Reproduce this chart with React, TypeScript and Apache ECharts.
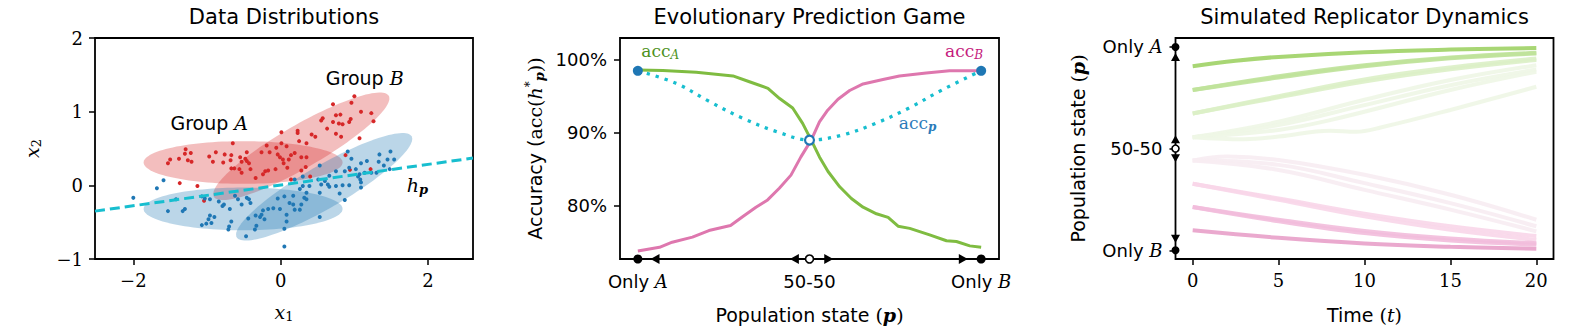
import React, { useEffect, useRef } from "react";
import * as echarts from "echarts";

const SANS = "DejaVu Sans";
const SERIF = "DejaVu Serif";
const RED = "#d62728";
const BLUE = "#1f77b4";
const CYAN = "#17becf";
const GREEN = "#7fbc41";
const PINK = "#de77ae";

// ---------- Panel 1: Data Distributions ----------
const x1Ticks = [-2, 0, 2];
const x2Ticks = [-1, 0, 1, 2];
// [cx, cy, semi-major, semi-minor, angle (deg)]
const ellipsesRed = [
  [-0.51, 0.31, 1.35, 0.29, 0],
  [0.28, 0.53, 1.37, 0.29, 30],
];
const ellipsesBlue = [
  [-0.51, -0.32, 1.35, 0.29, 0],
  [0.59, -0.02, 1.37, 0.29, 30],
];
const redPoints = [
  [-0.65, 0.57], [-1.29, 0.49], [-1.22, 0.44], [-1.3, 0.43], [-1.38, 0.36], [-1.5, 0.35], [-1.26, 0.34],
  [-1.21, 0.32], [-1.53, 0.3], [-0.97, 0.39], [-0.88, 0.45], [-0.92, 0.32], [-0.76, 0.42], [-0.78, 0.31],
  [-0.68, 0.34], [-0.67, 0.41], [-0.55, 0.38], [-0.53, 0.32], [-0.48, 0.36], [-0.46, 0.33], [-0.43, 0.3],
  [-0.46, 0.45], [-0.63, 0.23], [-0.67, 0.23], [-0.56, 0.22], [-0.53, 0.17], [-0.41, 0.22], [-0.34, 0.1],
  [-0.24, 0.15], [-0.21, 0.19], [-0.17, 0.2], [-0.26, 0.45], [-0.19, 0.54], [-0.15, 0.45], [-0.06, 0.51],
  [-0.04, 0.42], [-0.01, 0.38], [0.03, 0.35], [-0.07, 0.22], [0.01, 0.72], [0.09, 0.24], [-1.37, 0.03],
  [-1.13, -0.01], [-1.04, -0.21],
  [1.0, 1.21], [0.96, 1.12], [0.71, 1.1], [1.09, 1.0], [1.23, 0.98], [1.26, 0.87], [0.81, 0.96], [0.75, 0.95],
  [0.57, 0.91], [0.55, 0.88], [0.71, 0.86], [0.79, 0.84], [0.84, 0.83], [0.95, 0.9], [0.93, 0.86], [0.63, 0.77],
  [0.75, 0.7], [0.82, 0.66], [1.07, 0.64], [0.42, 0.69], [0.47, 0.66], [0.23, 0.74], [0.23, 0.71], [0.25, 0.6],
  [0.35, 0.57], [0.01, 0.57], [0.08, 0.53], [0.19, 0.44], [0.14, 0.41], [0.11, 0.35], [0.28, 0.38], [0.35, 0.38],
  [0.04, 0.3], [0.34, 0.25], [0.28, 0.2], [0.4, 0.12], [0.14, 0.08], [1.22, 0.22], [0.88, 0.41], [0.94, 0.21],
];
const bluePoints = [
  [-1.59, 0.07], [-1.68, -0.04], [-2.0, -0.17], [-1.42, -0.19], [-1.3, -0.32], [-1.33, -0.35], [-1.53, -0.35],
  [-1.07, -0.15], [-1.03, -0.18], [-0.96, -0.19], [-0.84, -0.22], [-0.77, -0.26], [-0.79, -0.28], [-0.69, -0.32],
  [-0.62, -0.14], [-0.58, -0.19], [-0.53, -0.26], [-0.46, -0.17], [-0.43, -0.19], [-0.41, -0.24], [-0.96, -0.41],
  [-0.9, -0.43], [-0.98, -0.46], [-1.01, -0.52], [-0.94, -0.51], [-1.07, -0.54], [-0.67, -0.49], [-0.7, -0.56],
  [-0.71, -0.6], [-0.44, -0.45], [-0.34, -0.41], [-0.28, -0.43], [-0.24, -0.34], [-0.17, -0.32], [-0.1, -0.31],
  [-0.26, -0.4], [-0.22, -0.46], [-0.33, -0.55], [-0.47, -0.69], [0.05, -0.83], [-0.04, -0.18], [-0.01, -0.32],
  [-0.35, -0.6], [0.05, -0.59],
  [0.91, 0.46], [0.96, 0.36], [1.34, 0.42], [1.49, 0.46], [1.54, 0.35], [1.45, 0.35], [1.33, 0.32], [1.17, 0.33],
  [1.09, 0.3], [1.02, 0.22], [1.14, 0.17], [1.07, 0.15], [1.23, 0.17], [1.3, 0.17], [0.93, 0.24], [1.05, 0.12],
  [1.08, 0.08], [1.09, 0.04], [1.09, -0.03], [0.87, 0.19], [0.75, 0.19], [0.66, 0.13], [0.53, 0.27], [0.6, 0.06],
  [0.64, 0.01], [0.55, 0.01], [0.51, 0.08], [0.66, -0.02], [0.75, -0.01], [0.84, 0.0], [0.93, 0.0], [0.8, -0.11],
  [0.87, -0.2], [0.53, -0.1], [0.3, 0.12], [0.3, -0.01], [0.39, -0.01], [0.19, 0.08], [0.26, -0.05], [0.35, -0.1],
  [0.32, -0.17], [0.17, -0.14], [0.05, -0.15], [0.12, -0.24], [0.28, -0.26], [0.35, -0.19], [0.19, -0.33],
  [0.08, -0.4], [0.08, -0.49], [0.26, -0.33], [0.17, -0.26], [0.53, -0.43], [1.48, 0.22], [1.4, 0.27],
];
const boundaryLine = [
  [-2.52, -0.35],
  [2.61, 0.37],
];

// ---------- Panel 2: Evolutionary Prediction Game ----------
const accTicks = [80, 90, 100];
const popTicks = [0, 0.5, 1];
const popTickLabels = ["{t|Only }{mt|A}", "{t|50-50}", "{t|Only }{mt|B}"];
const accA = [
  [0, 98.6], [0.073, 98.55], [0.17, 98.3], [0.277, 97.8], [0.325, 97.0], [0.379, 96.1], [0.413, 94.7],
  [0.451, 93.4], [0.48, 91.3], [0.505, 89.0], [0.529, 86.7], [0.554, 84.7], [0.588, 82.6], [0.622, 81.0],
  [0.656, 79.8], [0.695, 78.9], [0.729, 78.4], [0.758, 77.2], [0.792, 76.9], [0.85, 76.0], [0.899, 75.2],
  [0.928, 75.1], [0.967, 74.5], [1.0, 74.3],
];
const accB = [
  [0, 73.8], [0.063, 74.3], [0.1, 75.0], [0.159, 75.7], [0.207, 76.6], [0.27, 77.3], [0.305, 78.5],
  [0.344, 79.8], [0.378, 80.8], [0.412, 82.4], [0.446, 84.2], [0.475, 86.7], [0.505, 89.0], [0.529, 91.5],
  [0.553, 93.1], [0.583, 94.6], [0.617, 95.8], [0.656, 96.7], [0.714, 97.3], [0.762, 97.8], [0.84, 98.2],
  [0.908, 98.5], [1.0, 98.5],
];
const accP = [
  [0, 98.5], [0.111, 96.8], [0.208, 94.3], [0.305, 92.0], [0.402, 90.2], [0.5, 89.0], [0.596, 89.7],
  [0.693, 91.3], [0.79, 93.4], [0.887, 95.9], [1.0, 98.5],
];
const accEnds = [[0, 98.5], [1, 98.5]];
const accMid = [[0.5, 89.0]];
const ACC_MIN = 72.7;
const ACC_MAX = 103.0;
const POP_MIN = -0.052;
const POP_MAX = 1.052;
const popFixed = [0, 1];
const popUnstable = [0.5];
const popArrowsLeft = [0.05, 0.456];
const popArrowsRight = [0.556, 0.948];

// ---------- Panel 3: Simulated Replicator Dynamics ----------
const timeTicks = [0, 5, 10, 15, 20];
const stateTicks = [0, 0.5, 1];
const stateTickLabels = ["{t|Only }{mt|B}", "{t|50-50}", "{t|Only }{mt|A}"];
const T_MIN = -1;
const T_MAX = 21;
const S_MIN = -0.043;
const S_MAX = 1.044;
const greenRuns = [
  [
    [[0, 0.556], [5, 0.632], [10, 0.74], [15, 0.837], [20, 0.91]],
    [[0, 0.556], [5, 0.616], [10, 0.714], [15, 0.812], [20, 0.889]],
    [[0, 0.556], [5, 0.592], [8, 0.64], [15, 0.788], [20, 0.878]],
    [[0, 0.556], [3, 0.546], [5, 0.559], [8, 0.588], [9.5, 0.583], [11, 0.605], [15, 0.69], [20, 0.804]],
  ],
  [
    [[0, 0.673], [5, 0.752], [10, 0.83], [15, 0.89], [20, 0.936]],
    [[0, 0.673], [5, 0.758], [10, 0.84], [15, 0.899], [20, 0.943]],
  ],
  [
    [[0, 0.788], [5, 0.85], [10, 0.905], [15, 0.944], [20, 0.968]],
    [[0, 0.788], [5, 0.856], [10, 0.91], [15, 0.948], [20, 0.971]],
  ],
  [[[0, 0.905], [2.5, 0.932], [5, 0.951], [10, 0.974], [15, 0.987], [20, 0.995]]],
];
const pinkRuns = [
  [
    [[0, 0.441], [2, 0.461], [5, 0.444], [10, 0.371], [15, 0.273], [20, 0.15]],
    [[0, 0.441], [5, 0.42], [10, 0.33], [15, 0.232], [20, 0.118]],
    [[0, 0.441], [5, 0.395], [10, 0.297], [15, 0.2], [20, 0.093]],
  ],
  [
    [[0, 0.327], [5, 0.255], [10, 0.18], [15, 0.118], [20, 0.07]],
    [[0, 0.327], [5, 0.248], [10, 0.167], [15, 0.101], [20, 0.052]],
  ],
  [
    [[0, 0.213], [5, 0.15], [10, 0.095], [15, 0.058], [20, 0.035]],
    [[0, 0.213], [5, 0.143], [10, 0.085], [15, 0.048], [20, 0.028]],
  ],
  [[[0, 0.098], [5, 0.061], [10, 0.033], [15, 0.017], [20, 0.007]]],
];
const greenShades = ["#eef6e6", "#dbefc6", "#bfe29a", "#9ed165"];
const pinkShades = ["#f7ecf2", "#f8d6e9", "#f2bddb", "#e8a0c9"];
const stateFixed = [0, 1];
const stateUnstable = [0.5];
const stateArrowsUp = [0.951, 0.546];
const stateArrowsDown = [0.453, 0.056];

// ---------- Layout ----------
const W = 1578;
const H = 332;
const GRIDS = [
  { left: 95, top: 38, width: 378, height: 221 },
  { left: 620, top: 38, width: 379, height: 221 },
  { left: 1175.5, top: 38, width: 378, height: 221 },
];
const TITLES = ["Data Distributions", "Evolutionary Prediction Game", "Simulated Replicator Dynamics"];

const rs = (o: any) => ({ ...o, color: o.color || "#000", fill: o.color || "#000" });
const RICH: any = {
  s: rs({ fontFamily: SANS, fontSize: 19 }),
  t: rs({ fontFamily: SANS, fontSize: 18 }),
  m: rs({ fontFamily: SERIF, fontStyle: "italic", fontSize: 19 }),
  mt: rs({ fontFamily: SERIF, fontStyle: "italic", fontSize: 18 }),
  r: rs({ fontFamily: SERIF, fontSize: 19 }),
  b: rs({ fontFamily: SERIF, fontStyle: "italic", fontWeight: "bold", fontSize: 19 }),
  sub: rs({ fontFamily: SERIF, fontStyle: "italic", fontSize: 13, padding: [9, 0, 0, 0] }),
  subr: rs({ fontFamily: SERIF, fontSize: 13, padding: [9, 0, 0, 0] }),
  subb: rs({ fontFamily: SERIF, fontStyle: "italic", fontWeight: "bold", fontSize: 13, padding: [9, 0, 0, 0] }),
  sup: rs({ fontFamily: SERIF, fontSize: 12, padding: [0, 0, 10, 0] }),
};
const richColored = (color: string) => ({
  r: { fontFamily: SERIF, fontSize: 17, fill: color, color },
  sub: { fontFamily: SERIF, fontStyle: "italic", fontSize: 12, padding: [8, 0, 0, 0], fill: color, color },
  subb: {
    fontFamily: SERIF, fontStyle: "italic", fontWeight: "bold", fontSize: 12, padding: [8, 0, 0, 0], fill: color, color,
  },
});

const numFmt = (v: number) => (v < 0 ? "\u2212" + Math.abs(v) : String(v));

const tickStyle = (vals: number[], show = true) => ({
  show,
  customValues: vals,
  length: 6,
  inside: false,
  lineStyle: { color: "#000", width: 1.5 },
});

const ellipseSeries = (data: number[][], fill: string) => ({
  type: "custom",
  xAxisIndex: 0,
  yAxisIndex: 0,
  dimensions: ["cx", "cy", "a", "b", "angle"],
  encode: { x: 0, y: 1 },
  data,
  z: 1,
  renderItem: (_p: any, api: any) => {
    const cx = api.value(0), cy = api.value(1), a = api.value(2), b = api.value(3);
    const ang = (api.value(4) * Math.PI) / 180;
    const pts: number[][] = [];
    for (let k = 0; k < 120; k++) {
      const t = (k / 120) * Math.PI * 2;
      const lx = a * Math.cos(t), ly = b * Math.sin(t);
      pts.push(api.coord([cx + lx * Math.cos(ang) - ly * Math.sin(ang), cy + lx * Math.sin(ang) + ly * Math.cos(ang)]));
    }
    return { type: "polygon", shape: { points: pts }, style: { fill, stroke: "none" } };
  },
});

const markerSeries = (
  xi: number, data: number[][], symbol: string, size: any, color: string, extra: any = {}
) => ({
  type: "scatter",
  xAxisIndex: xi,
  yAxisIndex: xi,
  data,
  symbol,
  symbolSize: size,
  clip: false,
  silent: true,
  z: 10,
  itemStyle: { color, opacity: 1, ...(extra.itemStyle || {}) },
  symbolRotate: extra.rotate || 0,
});

function buildOption() {
  const series: any[] = [];
  // Panel 1
  series.push(ellipseSeries(ellipsesRed, "rgba(214,39,40,0.3)"));
  series.push(ellipseSeries(ellipsesBlue, "rgba(31,119,180,0.3)"));
  series.push({
    type: "scatter", xAxisIndex: 0, yAxisIndex: 0, data: redPoints, symbolSize: 4, z: 3,
    itemStyle: { color: RED, opacity: 1 },
  });
  series.push({
    type: "scatter", xAxisIndex: 0, yAxisIndex: 0, data: bluePoints, symbolSize: 4, z: 3,
    itemStyle: { color: BLUE, opacity: 1 },
  });
  series.push({
    type: "line", xAxisIndex: 0, yAxisIndex: 0, data: boundaryLine, showSymbol: false, symbol: "none", z: 4,
    lineStyle: { color: CYAN, width: 3, type: [10, 5] },
  });
  // Panel 2
  series.push({
    type: "line", xAxisIndex: 1, yAxisIndex: 1, data: accA, symbol: "none", z: 3,
    lineStyle: { color: GREEN, width: 3 },
  });
  series.push({
    type: "line", xAxisIndex: 1, yAxisIndex: 1, data: accB, symbol: "none", z: 3,
    lineStyle: { color: PINK, width: 3 },
  });
  series.push({
    type: "line", xAxisIndex: 1, yAxisIndex: 1, data: accP, symbol: "none", smooth: 0.35, z: 4,
    lineStyle: { color: CYAN, width: 3.3, type: [3.3, 6] },
  });
  series.push(markerSeries(1, accEnds, "circle", 10, BLUE));
  series.push({
    ...markerSeries(1, accMid, "circle", 9, "#fff"),
    itemStyle: { color: "#fff", borderColor: BLUE, borderWidth: 2.2, opacity: 1 },
  });
  series.push(markerSeries(1, popFixed.map((p) => [p, ACC_MIN]), "circle", 9, "#000"));
  series.push({
    ...markerSeries(1, popUnstable.map((p) => [p, ACC_MIN]), "circle", 8, "#fff"),
    itemStyle: { color: "#fff", borderColor: "#000", borderWidth: 1.6, opacity: 1 },
  });
  series.push(markerSeries(1, popArrowsLeft.map((p) => [p, ACC_MIN]), "triangle", [10, 9], "#000", { rotate: 90 }));
  series.push(markerSeries(1, popArrowsRight.map((p) => [p, ACC_MIN]), "triangle", [10, 9], "#000", { rotate: -90 }));
  // Panel 3
  const addRuns = (runs: number[][][][], shades: string[]) => {
    runs.forEach((level, li) => {
      level.forEach((run) => {
        series.push({
          type: "line", xAxisIndex: 2, yAxisIndex: 2, data: run, symbol: "none", smooth: 0.4, z: 3 + li * 0.1,
          lineStyle: { color: shades[li], width: 4, opacity: 0.9 },
        });
      });
    });
  };
  addRuns(greenRuns, greenShades);
  addRuns(pinkRuns, pinkShades);
  series.push(markerSeries(2, stateFixed.map((s) => [T_MIN, s]), "circle", 8, "#000"));
  series.push({
    ...markerSeries(2, stateUnstable.map((s) => [T_MIN, s]), "circle", 7, "#fff"),
    itemStyle: { color: "#fff", borderColor: "#000", borderWidth: 1.6, opacity: 1 },
  });
  series.push(markerSeries(2, stateArrowsUp.map((s) => [T_MIN, s]), "triangle", [9, 8], "#000"));
  series.push(markerSeries(2, stateArrowsDown.map((s) => [T_MIN, s]), "triangle", [9, 8], "#000", { rotate: 180 }));

  const baseAxis = {
    type: "value",
    axisLine: { show: false, onZero: false },
    splitLine: { show: false },
    nameLocation: "middle",
    nameTextStyle: { rich: RICH, color: "#000" },
  };
  const serifLabel = (vals: number[], margin: number) => ({
    customValues: vals, formatter: numFmt, margin, fontFamily: SERIF, fontSize: 18, color: "#000",
  });

  const xAxis: any[] = [
    {
      ...baseAxis, gridIndex: 0, min: -2.52, max: 2.61,
      axisTick: tickStyle(x1Ticks), axisLabel: serifLabel(x1Ticks, 12),
      name: "{m|x}{subr|1}", nameGap: 42,
    },
    {
      ...baseAxis, gridIndex: 1, min: POP_MIN, max: POP_MAX,
      axisTick: tickStyle(popTicks, false),
      axisLabel: {
        customValues: popTicks, margin: 13, rich: RICH,
        formatter: (v: number) => popTickLabels[popTicks.indexOf(v)] ?? "",
      },
      name: "{s|Population state }{r|(}{b|p}{r|)}", nameGap: 46,
    },
    {
      ...baseAxis, gridIndex: 2, min: T_MIN, max: T_MAX,
      axisTick: tickStyle(timeTicks), axisLabel: serifLabel(timeTicks, 12),
      name: "{s|Time }{r|(}{m|t}{r|)}", nameGap: 46,
    },
  ];
  const yAxis: any[] = [
    {
      ...baseAxis, gridIndex: 0, min: -1, max: 2,
      axisTick: tickStyle(x2Ticks), axisLabel: serifLabel(x2Ticks, 12),
      name: "{m|x}{subr|2}", nameRotate: 90, nameGap: 52,
    },
    {
      ...baseAxis, gridIndex: 1, min: ACC_MIN, max: ACC_MAX,
      axisTick: tickStyle(accTicks),
      axisLabel: {
        customValues: accTicks, margin: 13, fontFamily: SANS, fontSize: 18, color: "#000",
        formatter: (v: number) => v + "%",
      },
      name: "{s|Accuracy (}{r|acc(}{m|h}{sup|*}{subb|p}{r|))}", nameRotate: 90, nameGap: 74,
    },
    {
      ...baseAxis, gridIndex: 2, min: S_MIN, max: S_MAX,
      axisTick: tickStyle(stateTicks),
      axisLabel: {
        customValues: stateTicks, margin: 13, rich: RICH,
        formatter: (v: number) => stateTickLabels[stateTicks.indexOf(v)] ?? "",
      },
      name: "{s|Population state }{r|(}{b|p}{r|)}", nameRotate: 90, nameGap: 88,
    },
  ];

  return {
    animation: false,
    backgroundColor: "#fff",
    grid: GRIDS.map((g) => ({
      ...g, show: true, borderColor: "#000", borderWidth: 1.8, backgroundColor: "transparent",
      containLabel: false, outerBoundsMode: "none",
    })),
    xAxis,
    yAxis,
    series,
  };
}

// annotation anchors (data coordinates) for text labels
const groupALabelAt = [-0.97, 0.84];
const groupBLabelAt = [1.14, 1.455];
const hLabelAt = [1.71, 0.0];
const accALabelAt = [0.01, 101.2];
const accBLabelAt = [0.895, 101.2];
const accPLabelAt = [0.76, 91.4];

export default function App() {
  const ref = useRef<HTMLDivElement>(null);
  useEffect(() => {
    const chart = echarts.init(ref.current!, null, { renderer: "svg" });
    chart.setOption(buildOption() as any);
    const px = (g: number, p: number[]) => chart.convertToPixel({ gridIndex: g } as any, p) as number[];
    const txt = (pos: number[], text: string, rich: any, align = "center") => ({
      type: "text",
      x: pos[0],
      y: pos[1],
      z: 100,
      style: { text, rich, align, verticalAlign: "middle", fill: "#000", font: `19px ${SANS}` },
    });
    const graphics: any[] = [];
    GRIDS.forEach((g, i) => {
      graphics.push({
        type: "text",
        x: g.left + g.width / 2,
        y: 17,
        style: { text: TITLES[i], align: "center", verticalAlign: "middle", fill: "#000", font: `21px ${SANS}` },
      });
    });
    graphics.push(txt(px(0, groupALabelAt), "{s|Group }{m|A}", RICH));
    graphics.push(txt(px(0, groupBLabelAt), "{s|Group }{m|B}", RICH));
    graphics.push(txt(px(0, hLabelAt), "{m|h}{subb|p}", RICH, "left"));
    graphics.push(txt(px(1, accALabelAt), "{r|acc}{sub|A}", richColored("#4d9221"), "left"));
    graphics.push(txt(px(1, accBLabelAt), "{r|acc}{sub|B}", richColored("#c51b7d"), "left"));
    graphics.push(txt(px(1, accPLabelAt), "{r|acc}{subb|p}", richColored("#2b7bba"), "left"));
    chart.setOption({ graphic: graphics });
    return () => chart.dispose();
  }, []);
  return (
    <div
      ref={ref}
      style={{ position: "fixed", left: 0, top: 0, width: W, height: H, background: "#fff" }}
    />
  );
}
